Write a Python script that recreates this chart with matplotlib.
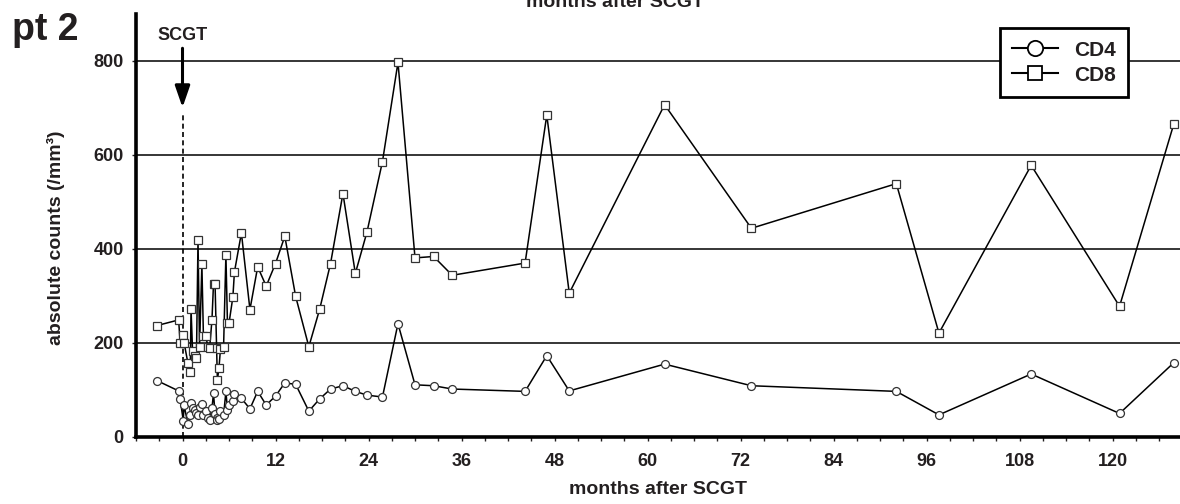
import matplotlib.pyplot as plt
from matplotlib.lines import Line2D
import numpy as np

plt.rcParams['font.family'] = ['Liberation Sans', 'DejaVu Sans']

# ------------------------------------------------------------
# data (months after SCGT, cells / mm3)
# ------------------------------------------------------------
months = [-3.3, -0.5, -0.3, 0.1, 0.2, 0.7, 1.0, 1.1, 1.3, 1.6, 1.8, 2.0, 2.2,
          2.5, 2.7, 3.0, 3.3, 3.5, 3.8, 4.0, 4.2, 4.4, 4.5, 4.7, 4.9, 5.3,
          5.6, 5.8, 6.0, 6.5, 6.7, 7.6, 8.7, 9.7, 10.8, 12.0, 13.2, 14.6,
          16.3, 17.7, 19.1, 20.7, 22.3, 23.8, 25.8, 27.8, 30.0, 32.4, 34.8,
          44.2, 47.0, 49.9, 62.2, 73.4, 92.1, 97.6, 109.5, 120.9, 127.9]

cd8 = [236, 248, 199, 216, 200, 156, 138, 272, 181, 172, 167, 419, 190,
       366, 213, 213, 190, 188, 248, 325, 325, 188, 120, 145, 186, 191,
       387, 241, 241, 297, 350, 433, 270, 361, 320, 368, 426, 298,
       191, 271, 368, 517, 347, 435, 585, 796, 380, 383, 343,
       369, 684, 305, 706, 443, 538, 220, 577, 277, 665]

cd4 = [119, 97, 79, 34, 67, 26, 45, 71, 60, 56, 50, 46, 62,
       69, 45, 55, 40, 35, 60, 92, 48, 40, 35, 38, 55, 45,
       96, 57, 67, 75, 91, 81, 59, 96, 67, 86, 114, 111,
       54, 80, 101, 108, 96, 88, 84, 240, 110, 108, 101,
       96, 172, 97, 154, 108, 96, 46, 133, 49, 157]

x_ticks = [0, 12, 24, 36, 48, 60, 72, 84, 96, 108, 120]
x_minor = np.arange(-6, 129, 3)
y_ticks = [0, 200, 400, 600, 800]

txt = '#231f20'

# ------------------------------------------------------------
# figure
# ------------------------------------------------------------
fig = plt.figure(figsize=(11.8, 5.04), dpi=100)
ax = fig.add_axes([136 / 1180, 67.5 / 504, 1 - 136 / 1180, 423 / 504])

ax.set_xlim(-6, 128.7)
ax.set_ylim(0, 900)

# horizontal grid lines
for y in y_ticks[1:]:
    ax.axhline(y, color='black', lw=1.1, zorder=1)

ax.plot(months, cd8, color='black', lw=1.1, marker='s', ms=5.3,
        mfc='white', mec='#333333', mew=0.9, zorder=3)
ax.plot(months, cd4, color='black', lw=1.1, marker='o', ms=5.7,
        mfc='white', mec='#333333', mew=0.9, zorder=4)

# SCGT marker: dashed line + arrow
ax.plot([0, 0], [0, 683], color='black', lw=1.2, ls=(0, (3, 2)), zorder=2)
ax.annotate('', xy=(0, 700), xytext=(0, 826),
            arrowprops=dict(arrowstyle='-|>,head_length=1.3,head_width=0.45',
                            color='black', lw=2.2, shrinkA=0, shrinkB=0),
            annotation_clip=False)
ax.text(0, 854, 'SCGT', ha='center', va='center', fontsize=13,
        fontweight='bold', color=txt)

# axes styling
for side in ['top', 'right']:
    ax.spines[side].set_visible(False)
for side in ['left', 'bottom']:
    ax.spines[side].set_linewidth(2.6)
    ax.spines[side].set_color('black')

ax.set_xticks(x_ticks)
ax.set_xticks(x_minor, minor=True)
ax.set_yticks(y_ticks)
ax.tick_params(axis='x', which='both', length=3, width=1, pad=9,
               labelsize=13, colors=txt)
ax.tick_params(axis='y', length=3, width=1, pad=6, labelsize=13, colors=txt)
for lab in ax.get_xticklabels() + ax.get_yticklabels():
    lab.set_fontweight('bold')

ax.set_xlabel('months after SCGT', fontsize=14, fontweight='bold',
              color=txt, labelpad=8)
ax.set_ylabel('absolute counts (/mm³)', fontsize=14, fontweight='bold',
              color=txt)
ax.yaxis.set_label_coords(-0.068, 0.47)

# legend
handles = [
    Line2D([], [], color='black', lw=1.5, marker='o', ms=11,
           mfc='white', mec='black', mew=1.3, label='CD4'),
    Line2D([], [], color='black', lw=1.5, marker='s', ms=10,
           mfc='white', mec='black', mew=1.3, label='CD8'),
]
leg = ax.legend(handles=handles, loc='upper right',
                bbox_to_anchor=(1128 / 1180, 1 - 28 / 504),
                bbox_transform=fig.transFigure, borderaxespad=0,
                fancybox=False, framealpha=1, edgecolor='black',
                handlelength=2.2, handletextpad=0.75,
                borderpad=0.6, labelspacing=0.3,
                prop={'weight': 'bold', 'size': 15})
leg.get_frame().set_linewidth(2)
for t in leg.get_texts():
    t.set_color(txt)
leg.set_zorder(10)

# panel label and cropped duplicate x label at the very top
fig.text(12 / 1180, 1 - 40 / 504, 'pt 2', fontsize=27, fontweight='bold',
         color=txt, ha='left', va='baseline')
fig.text(615 / 1180, 1 - 7 / 504, 'months after SCGT', fontsize=14,
         fontweight='bold', color=txt, ha='center', va='baseline')

fig.savefig('out.png', dpi=100)
